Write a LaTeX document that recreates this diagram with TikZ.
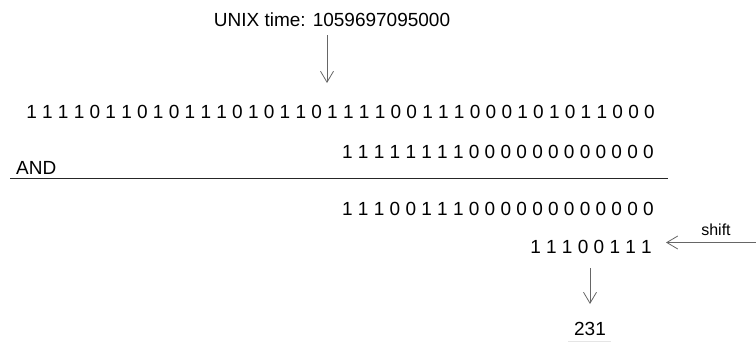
\documentclass[tikz,border=0pt]{standalone}
\usepackage{fontspec}
\setmainfont{Liberation Sans}
\usetikzlibrary{arrows.meta}
\begin{document}
\begin{tikzpicture}[x=1pt,y=-1pt,
  bits/.style={inner sep=0pt,anchor=base east,font=\fontsize{19}{22}\selectfont},
  lbl/.style={inner sep=0pt,font=\fontsize{19}{22}\selectfont},
  arr/.style={draw=black!60,line width=0.8pt,-{Straight Barb[length=11pt,width=13pt,line width=0.8pt]}}]
\useasboundingbox (0,0) rectangle (756,343);
\node[lbl,anchor=base] (unix) at (332,26) {UNIX time: 1059697095000};
\coordinate (a1s) at (327,35);
\coordinate (a1e) at (327,83);
\draw[arr] (a1s) -- (a1e);
\node[bits] (row1) at (655,118) {1 1 1 1 0 1 1 0 1 0 1 1 1 0 1 0 1 1 0 1 1 1 1 0 0 1 1 1 0 0 0 1 0 1 0 1 1 0 0 0};
\node[bits] (row2) at (654,158) {1 1 1 1 1 1 1 1 0 0 0 0 0 0 0 0 0 0 0 0};
\node[lbl,anchor=base west] (and) at (16,174) {AND};
\coordinate (ls) at (10,178);
\coordinate (le) at (668,178);
\draw[line width=0.9pt,black!85] (ls) -- (le);
\node[bits] (row3) at (654,215) {1 1 1 0 0 1 1 1 0 0 0 0 0 0 0 0 0 0 0 0};
\node[bits] (row4) at (652,253) {1 1 1 0 0 1 1 1};
\node[inner sep=0pt,anchor=base,font=\fontsize{16}{19}\selectfont] (shift) at (716,235) {shift};
\coordinate (a2s) at (756,242.5);
\coordinate (a2e) at (666,242.5);
\draw[arr] (a2s) -- (a2e);
\coordinate (a3s) at (590,268);
\coordinate (a3e) at (590,304);
\draw[arr] (a3s) -- (a3e);
\node[lbl,anchor=base] (res) at (590,335) {231};
\coordinate (fs) at (568,341.5);
\coordinate (fe) at (611,341.5);
\draw[black!10,line width=0.8pt] (fs) -- (fe);
\end{tikzpicture}
\end{document}
